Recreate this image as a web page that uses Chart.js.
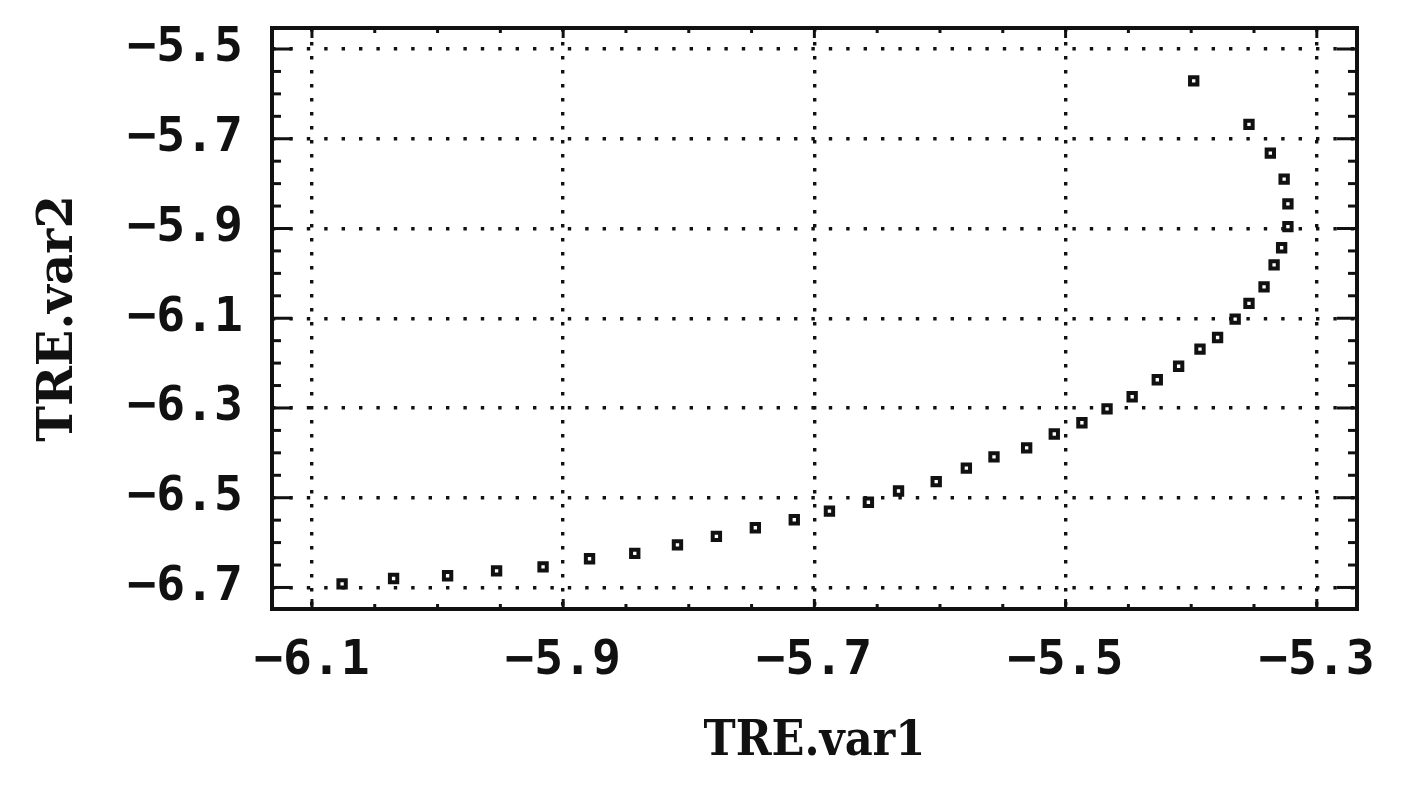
<!DOCTYPE html>
<html>
<head>
<meta charset="utf-8">
<script src="https://cdn.jsdelivr.net/npm/chart.js@4"></script>
<style>
html,body{margin:0;padding:0;background:#fff;}
#wrap{width:1413px;height:798px;}
</style>
</head>
<body>
<div id="wrap"><canvas id="c" width="1413" height="798"></canvas></div>
<script>
// ---- data ----
const var1 = [-6.076, -6.035, -5.992, -5.953, -5.916, -5.879, -5.843, -5.809, -5.778, -5.747,
              -5.716, -5.688, -5.657, -5.633, -5.603, -5.579, -5.557, -5.531, -5.509, -5.487,
              -5.467, -5.447, -5.427, -5.410, -5.393, -5.379, -5.365, -5.354, -5.342, -5.334,
              -5.328, -5.323, -5.323, -5.326, -5.337, -5.354, -5.398];
const var2 = [-6.692, -6.680, -6.674, -6.663, -6.654, -6.636, -6.624, -6.605, -6.586, -6.567,
              -6.549, -6.530, -6.510, -6.485, -6.464, -6.434, -6.409, -6.389, -6.358, -6.333,
              -6.302, -6.275, -6.237, -6.207, -6.169, -6.143, -6.102, -6.067, -6.030, -5.981,
              -5.943, -5.896, -5.845, -5.790, -5.732, -5.668, -5.571];
const xTickValues = [-6.1, -5.9, -5.7, -5.5, -5.3];
const yTickValues = [-6.7, -6.5, -6.3, -6.1, -5.9, -5.7, -5.5];
const xTitle = 'TRE.var1';
const yTitle = 'TRE.var2';
const xRange = [-6.1318, -5.268];
const yRange = [-6.748, -5.4532];
const minorStep = 0.05;

const INK = '#111';
const fmt = v => Number(v).toFixed(1).replace('-', '\u2212');

const framePlugin = {
  id: 'frame',
  afterDatasetsDraw(chart) {
    const {ctx, chartArea: a, scales} = chart;
    const xs = scales.x, ys = scales.y;
    ctx.save();
    ctx.strokeStyle = INK;
    ctx.lineCap = 'butt';
    const line = (x1, y1, x2, y2) => { ctx.beginPath(); ctx.moveTo(x1, y1); ctx.lineTo(x2, y2); ctx.stroke(); };
    ctx.lineWidth = 3;
    const xFirst = xTickValues[0], xLast = xTickValues[xTickValues.length - 1];
    for (let k = 0; ; k++) {
      const v = xFirst + k * minorStep;
      if (v > xLast + 1e-9) break;
      const px = xs.getPixelForValue(v);
      const L = (k % 4 === 0) ? 10 : 5;
      line(px, a.bottom, px, a.bottom - L);
      line(px, a.top, px, a.top + L);
    }
    const yFirst = yTickValues[0], yLast = yTickValues[yTickValues.length - 1];
    for (let k = 0; ; k++) {
      const v = yFirst + k * minorStep;
      if (v > yLast + 1e-9) break;
      const py = ys.getPixelForValue(v);
      const L = (k % 4 === 0) ? 20 : 9;
      line(a.left, py, a.left + L, py);
      line(a.right, py, a.right - L, py);
    }
    ctx.lineWidth = 4;
    ctx.strokeRect(a.left, a.top, a.right - a.left, a.bottom - a.top);
    ctx.restore();
  }
};

new Chart(document.getElementById('c'), {
  type: 'scatter',
  data: {
    datasets: [{
      data: var1.map((x, i) => ({x: x, y: var2[i]})),
      pointStyle: 'rect',
      pointRadius: 5.2,
      pointBorderWidth: 4,
      pointBackgroundColor: '#fff',
      pointBorderColor: INK,
      showLine: false
    }]
  },
  options: {
    responsive: false,
    animation: false,
    layout: {padding: {top: 28, right: 56, left: 0, bottom: 0}},
    plugins: {legend: {display: false}, tooltip: {enabled: false}},
    scales: {
      x: {
        type: 'linear',
        min: xRange[0], max: xRange[1],
        afterBuildTicks: s => { s.ticks = xTickValues.map(v => ({value: v})); },
        afterFit: s => { s.height = 189; s.paddingLeft = 0; s.paddingRight = 0; },
        grid: {color: INK, lineWidth: 3.4, drawTicks: false},
        border: {display: false, dash: [3.4, 10.6]},
        ticks: {
          callback: fmt, autoSkip: false, maxRotation: 0, padding: 29, color: INK,
          font: {family: "'DejaVu Sans Mono', monospace", size: 48, weight: 'bold', lineHeight: 1}
        },
        title: {
          display: true, text: xTitle, color: INK, padding: {top: 0, bottom: 31},
          font: {family: "'DejaVu Serif Condensed', 'DejaVu Serif', serif", size: 48, weight: 'bold', lineHeight: 1}
        }
      },
      y: {
        type: 'linear',
        min: yRange[0], max: yRange[1],
        afterBuildTicks: s => { s.ticks = yTickValues.map(v => ({value: v})); },
        afterFit: s => { s.width = 272; s.paddingTop = 0; s.paddingBottom = 0; },
        grid: {color: INK, lineWidth: 3.4, drawTicks: false},
        border: {display: false, dash: [3.4, 14]},
        ticks: {
          callback: fmt, autoSkip: false, padding: 29, color: INK,
          font: {family: "'DejaVu Sans Mono', monospace", size: 48, weight: 'bold', lineHeight: 1}
        },
        title: {
          display: true, text: yTitle, color: INK, padding: {top: 36, bottom: 0},
          font: {family: "'DejaVu Serif', serif", size: 48, weight: 'bold', lineHeight: 1}
        }
      }
    }
  },
  plugins: [framePlugin]
});
</script>
</body>
</html>
